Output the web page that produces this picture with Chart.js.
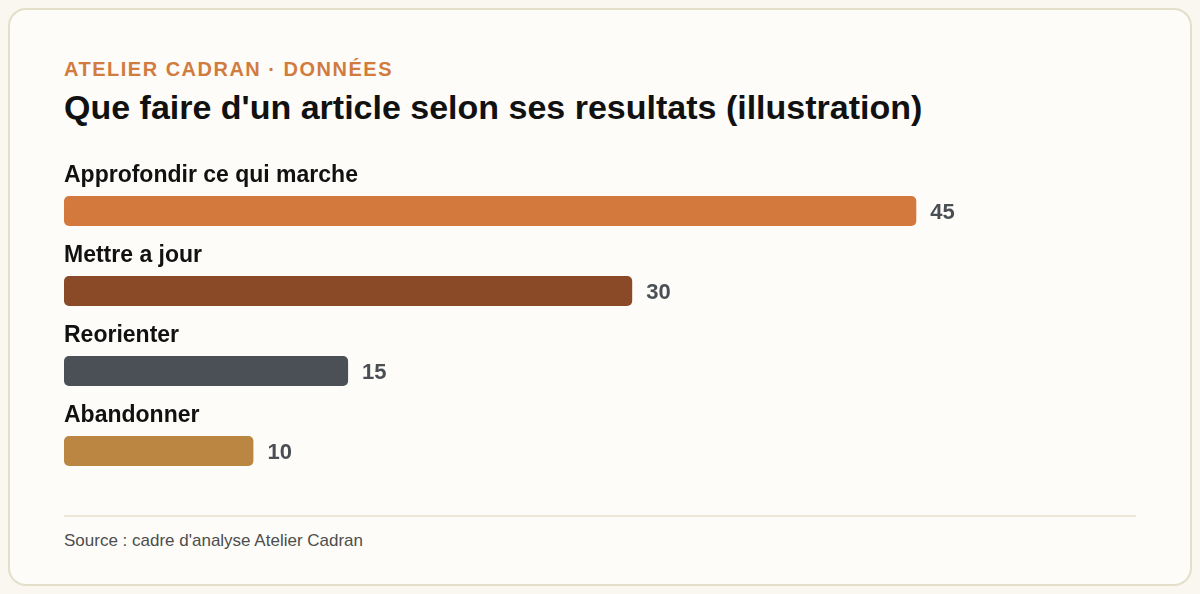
<!DOCTYPE html>
<html lang="fr">
<head>
<meta charset="utf-8">
<title>Que faire d'un article selon ses resultats</title>
<script src="https://cdn.jsdelivr.net/npm/chart.js@4"></script>
<style>
  html, body {
    margin: 0;
    padding: 0;
    width: 1200px;
    height: 594px;
    background: #f9f7f0;
    font-family: "Liberation Sans", Arial, sans-serif;
    overflow: hidden;
  }
  .card {
    position: absolute;
    left: 8px;
    top: 8px;
    width: 1184px;
    height: 578px;
    box-sizing: border-box;
    border: 2px solid #e3dfc9;
    border-radius: 18px;
    background: #fdfcf8;
  }
  .kicker {
    position: absolute;
    left: 64px;
    top: 58px;
    font-size: 20px;
    font-weight: bold;
    letter-spacing: 1.5px;
    color: #d27b3f;
  }
  h1 {
    position: absolute;
    left: 64px;
    top: 88px;
    margin: 0;
    font-size: 34px;
    font-weight: bold;
    color: #111111;
  }
  #wrap {
    position: absolute;
    left: 64px;
    top: 140px;
    width: 1072px;
    height: 360px;
  }
  .rule {
    position: absolute;
    left: 64px;
    top: 515px;
    width: 1072px;
    height: 2px;
    background: #ece8d8;
  }
  .source {
    position: absolute;
    left: 64px;
    top: 531px;
    font-size: 17px;
    color: #4d4d4d;
  }
</style>
</head>
<body>
<div class="card"></div>
<div class="kicker">ATELIER CADRAN · DONNÉES</div>
<h1>Que faire d'un article selon ses resultats (illustration)</h1>
<div id="wrap"><canvas id="myChart"></canvas></div>
<div class="rule"></div>
<div class="source">Source : cadre d'analyse Atelier Cadran</div>

<script>
'use strict';

//********************* Data *************************/
let categories = ['Approfondir ce qui marche', 'Mettre a jour', 'Reorienter', 'Abandonner'];
let values = [45, 30, 15, 10];
let barColors = ['#d4793d', '#8a4a27', '#4a5056', '#bb8641'];

//********************* Label plugin *****************/
// category name above each bar, value to the right
let barLabels = {
  id: 'barLabels',
  afterDatasetsDraw(chart) {
    let ctx = chart.ctx;
    let meta = chart.getDatasetMeta(0);
    ctx.save();
    ctx.textBaseline = 'middle';
    meta.data.forEach(function (bar, i) {
      ctx.font = 'bold 23px "Liberation Sans", Arial, sans-serif';
      ctx.fillStyle = '#111111';
      ctx.textAlign = 'left';
      ctx.fillText(categories[i], chart.chartArea.left, bar.y - 35);

      ctx.font = 'bold 22px "Liberation Sans", Arial, sans-serif';
      ctx.fillStyle = '#4a4f55';
      ctx.fillText(String(values[i]), bar.x + 14, bar.y + 2);
    });
    ctx.restore();
  }
};

const ctx = document.getElementById('myChart').getContext('2d');

const myChart = new Chart(ctx, {
  type: 'bar',
  data: {
    labels: categories,
    datasets: [{
      data: values,
      backgroundColor: barColors,
      borderRadius: 5,
      borderSkipped: false,
      categoryPercentage: 1,
      barPercentage: 0.375
    }]
  },
  options: {
    indexAxis: 'y',
    responsive: true,
    maintainAspectRatio: false,
    animation: false,
    layout: {
      padding: { top: 31, bottom: 9, left: 0, right: 125 }
    },
    plugins: {
      legend: { display: false },
      tooltip: { enabled: false }
    },
    scales: {
      x: {
        display: false,
        min: 0,
        max: 50
      },
      y: {
        display: false
      }
    }
  },
  plugins: [barLabels]
});
</script>
</body>
</html>
